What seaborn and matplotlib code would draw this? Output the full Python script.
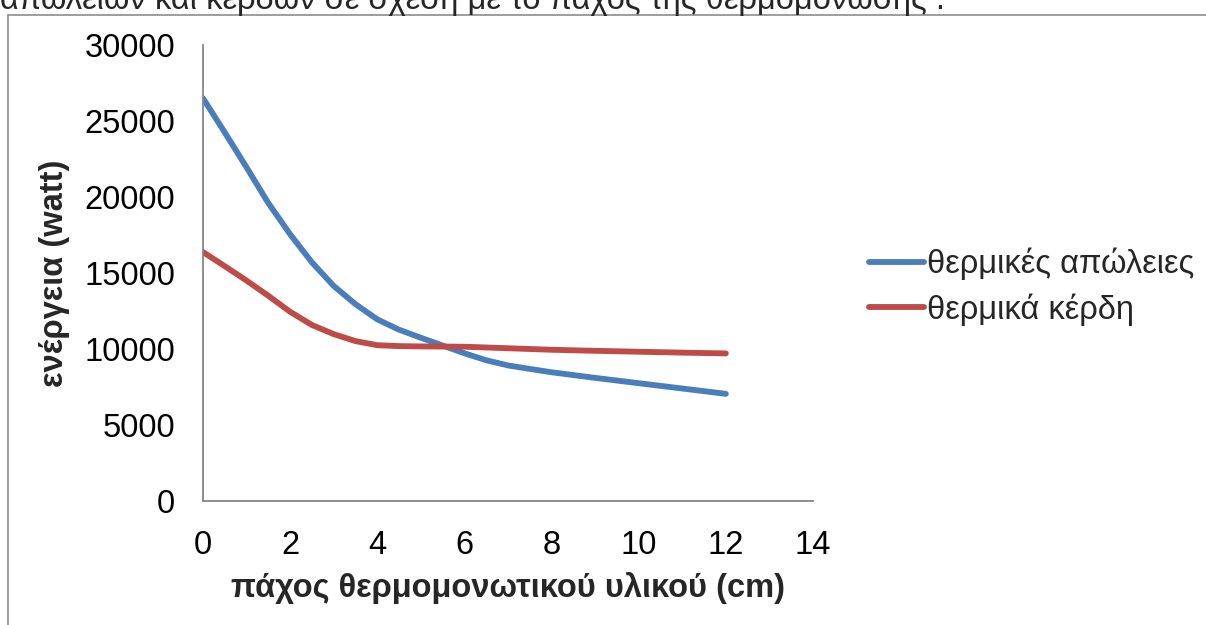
import numpy as np
import pandas as pd
import matplotlib
matplotlib.use('Agg')
import matplotlib.pyplot as plt
import seaborn as sns
from matplotlib.patches import Rectangle
from matplotlib.lines import Line2D

# ========== 数据 ==========
thickness = [0, 0.5, 1, 1.5, 2, 2.5, 3, 3.5, 4, 4.5, 5, 5.5, 6, 6.5, 7, 7.5, 8, 9, 10, 11, 12]
losses = [26500, 24250, 21950, 19600, 17550, 15700, 14150, 12950, 11950, 11270, 10740,
          10230, 9720, 9260, 8920, 8690, 8470, 8100, 7750, 7400, 7050]
gains = [16380, 15450, 14500, 13500, 12450, 11580, 10980, 10520, 10250, 10190, 10170,
         10160, 10150, 10100, 10050, 10000, 9950, 9880, 9820, 9760, 9710]
series_names = ['θερμικές απώλειες', 'θερμικά κέρδη']
colors = ['#4A7EBB', '#BE4B48']

df = pd.DataFrame({
    'x': thickness * 2,
    'y': losses + gains,
    'series': [series_names[0]] * len(thickness) + [series_names[1]] * len(thickness),
})

# ========== 样式 ==========
sns.set_theme(style='white')
plt.rcParams['font.family'] = ['Liberation Sans', 'DejaVu Sans']
fs = 23.5
lw = 4.2

fig = plt.figure(figsize=(12.06, 6.25), dpi=100)
ax = fig.add_axes([0.1683, 0.1984, 0.5058, 0.7296])

sns.lineplot(data=df, x='x', y='y', hue='series', palette=colors, ax=ax,
             linewidth=lw, solid_capstyle='round', solid_joinstyle='round', legend=False)

ax.set_xlim(0, 14)
ax.set_ylim(0, 30000)
ax.set_xticks(range(0, 15, 2))
ax.set_yticks(range(0, 30001, 5000))

for s in ['top', 'right']:
    ax.spines[s].set_visible(False)
for s in ['left', 'bottom']:
    ax.spines[s].set_color('#868686')
    ax.spines[s].set_linewidth(1.3)

ax.tick_params(axis='both', which='major', direction='out', length=7, width=1.3,
               color='#868686', labelsize=fs, labelcolor='black')
ax.tick_params(axis='y', pad=13)
ax.tick_params(axis='x', pad=14)

ax.set_xlabel('πάχος θερμομονωτικού υλικού (cm)', fontsize=fs, fontweight='bold', labelpad=8)
ax.set_ylabel('ενέργεια (watt)', fontsize=fs, fontweight='bold', labelpad=10)

# 图例
handles = [Line2D([0], [0], color=c, lw=lw, solid_capstyle='round') for c in colors]
ax.legend(handles, series_names, loc='center left', bbox_to_anchor=(1.07, 0.47),
          frameon=False, fontsize=fs, handlelength=1.7, handletextpad=0.1,
          labelspacing=0.4, borderaxespad=0)

# 外框与被裁切的上方文字（参考图中该行文字即被截断）
fig.patches.append(Rectangle((8 / 1206, -0.01), 1.0, 0.976 + 0.01,
                             transform=fig.transFigure, fill=False,
                             edgecolor='#8c8c8c', linewidth=1.2))
fig.text(0.0, 1 - 9 / 625, 'απωλειών και κερδών σε σχέση με το πάχος της θερμομόνωσης .',
         fontsize=fs, va='baseline', ha='left')

fig.savefig('out.png', dpi=100)
